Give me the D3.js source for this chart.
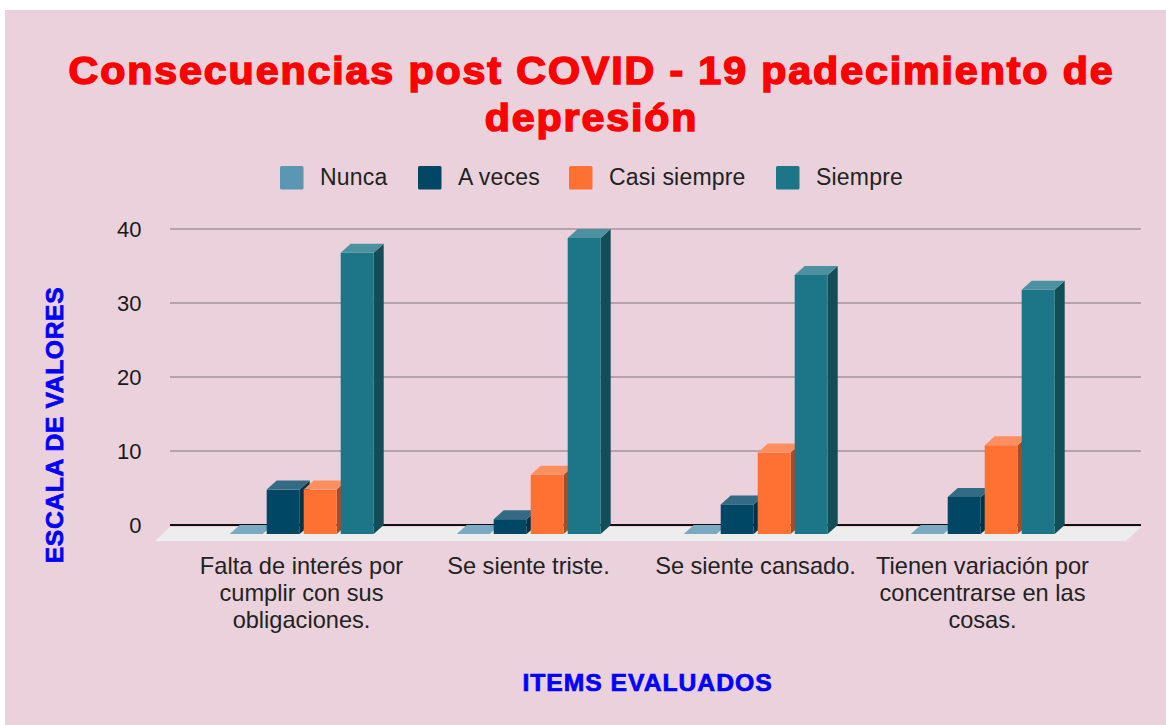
<!DOCTYPE html>
<html><head><meta charset="utf-8">
<script src="https://cdnjs.cloudflare.com/ajax/libs/d3/7.8.5/d3.min.js"></script>
<style>html,body{margin:0;padding:0;background:#fff;overflow:hidden}svg{display:block;font-family:"Liberation Sans",Arial,sans-serif}</style>
</head><body><svg id="c" width="1166" height="725"></svg>
<script>
const categories=[["Falta de interés por","cumplir con sus","obligaciones."],["Se siente triste."],["Se siente cansado."],["Tienen variación por","concentrarse en las","cosas."]];
const seriesNames=["Nunca","A veces","Casi siempre","Siempre"];
const titleLines=["Consecuencias post COVID - 19 padecimiento de","depresión"];
const nunca=[0,0,0,0];
const aVeces=[6,2,4,5];
const casiSiempre=[6,8,11,12];
const siempre=[38,40,35,33];
const yTicks=[0,10,20,30,40];
const colors=["#5b96b3","#004766","#ff7033","#1d7687"];
const topColors=["#7ba9c2","#346b84","#ff8f5f","#4b919f"];
const sideColors=["#47758c","#023247","#a84c24","#134e58"];
const legendTextX=[320,458,609,816];
const values=[nunca,aVeces,casiSiempre,siempre];
const DX=10,DY=9;
const svg=d3.select("#c");
svg.append("rect").attr("x",5).attr("y",10).attr("width",1161).attr("height",715).attr("fill","#ead1dc");
const y=d3.scaleLinear().domain([0,40]).range([525,229]);
const x0=d3.scaleBand().domain(d3.range(4)).range([188.7,1096.7]);
const x1=d3.scaleBand().domain(d3.range(4)).range([41,185]).paddingInner(4/37);
// title
svg.append("g").selectAll("text").data(titleLines).join("text")
 .attr("transform",(d,i)=>`translate(591.5,${84+i*47}) scale(1.07,1)`).attr("text-anchor","middle").attr("fill","#ff0000").attr("stroke","#ff0000").attr("stroke-width",1.5)
 .attr("font-weight","bold").attr("font-size",38.5).attr("letter-spacing",1.76).text(d=>d);
// legend
const lg=svg.append("g");
seriesNames.forEach((n,i)=>{
 lg.append("rect").attr("x",legendTextX[i]-40).attr("y",166).attr("width",23.5).attr("height",23.5).attr("rx",1.5).attr("fill",colors[i]);
 lg.append("text").attr("x",legendTextX[i]).attr("y",185).attr("font-size",23).attr("letter-spacing",0.2).attr("fill","#222").text(n);
});
// grid
const grid=svg.append("g");
grid.selectAll("line").data(yTicks.filter(d=>d>0)).join("line").attr("x1",170).attr("x2",1141)
 .attr("y1",d=>y(d)).attr("y2",d=>y(d)).attr("stroke","#b7a1ab").attr("stroke-width",2);
// floor
svg.append("path").attr("d",`M170,527L1141,527L1126,541L155,541Z`).attr("fill","#ededed");
svg.append("line").attr("x1",170).attr("x2",1141).attr("y1",y(0)).attr("y2",y(0)).attr("stroke","#111").attr("stroke-width",2);
// axis labels
const ax=d3.axisLeft(y).tickValues(yTicks).tickSize(0).tickPadding(0);
const axG=svg.append("g").attr("transform","translate(141.5,0)").call(ax);
axG.select(".domain").remove();
axG.selectAll("text").attr("font-size",22).attr("font-family","'Liberation Sans',Arial,sans-serif").attr("fill","#1a1a1a").attr("dy","0.32em");
// bars
categories.forEach((c,ci)=>{
 const g=svg.append("g");
 values.forEach((vals,si)=>{
  const v=vals[ci],xx=x0(ci)+x1(si),w=x1.bandwidth(),b=y(0)+DY,t=y(v)+DY;
  if(v>0){
   g.append("path").attr("d",`M${xx+w},${t}L${xx+w+DX},${t-DY}L${xx+w+DX},${b-DY}L${xx+w},${b}Z`).attr("fill",sideColors[si]);
   g.append("rect").attr("x",xx).attr("y",t).attr("width",w).attr("height",b-t).attr("fill",colors[si]);
  }
  g.append("path").attr("d",`M${xx},${t}L${xx+DX},${t-DY}L${xx+w+DX},${t-DY}L${xx+w},${t}Z`).attr("fill",topColors[si]);
 });
 const tx=svg.append("text").attr("text-anchor","middle").attr("font-size",23.6).attr("fill","#222");
 c.forEach((l,i)=>tx.append("tspan").attr("x",x0(ci)+x0.bandwidth()/2-0.7).attr("y",574+i*27.2).text(l));
});
// axis titles
svg.append("text").attr("transform","translate(647.5,691) scale(1.05,1)").attr("text-anchor","middle").attr("fill","#0000ff").attr("stroke","#0000ff").attr("stroke-width",0.7).attr("font-weight","bold").attr("font-size",23.5).attr("letter-spacing",0.95).text("ITEMS EVALUADOS");
svg.append("text").attr("transform","translate(63,425) rotate(-90) scale(1.05,1)").attr("text-anchor","middle").attr("fill","#0000ff").attr("stroke","#0000ff").attr("stroke-width",0.7).attr("font-weight","bold").attr("font-size",23.5).attr("letter-spacing",0.6).text("ESCALA DE VALORES");
</script></body></html>
